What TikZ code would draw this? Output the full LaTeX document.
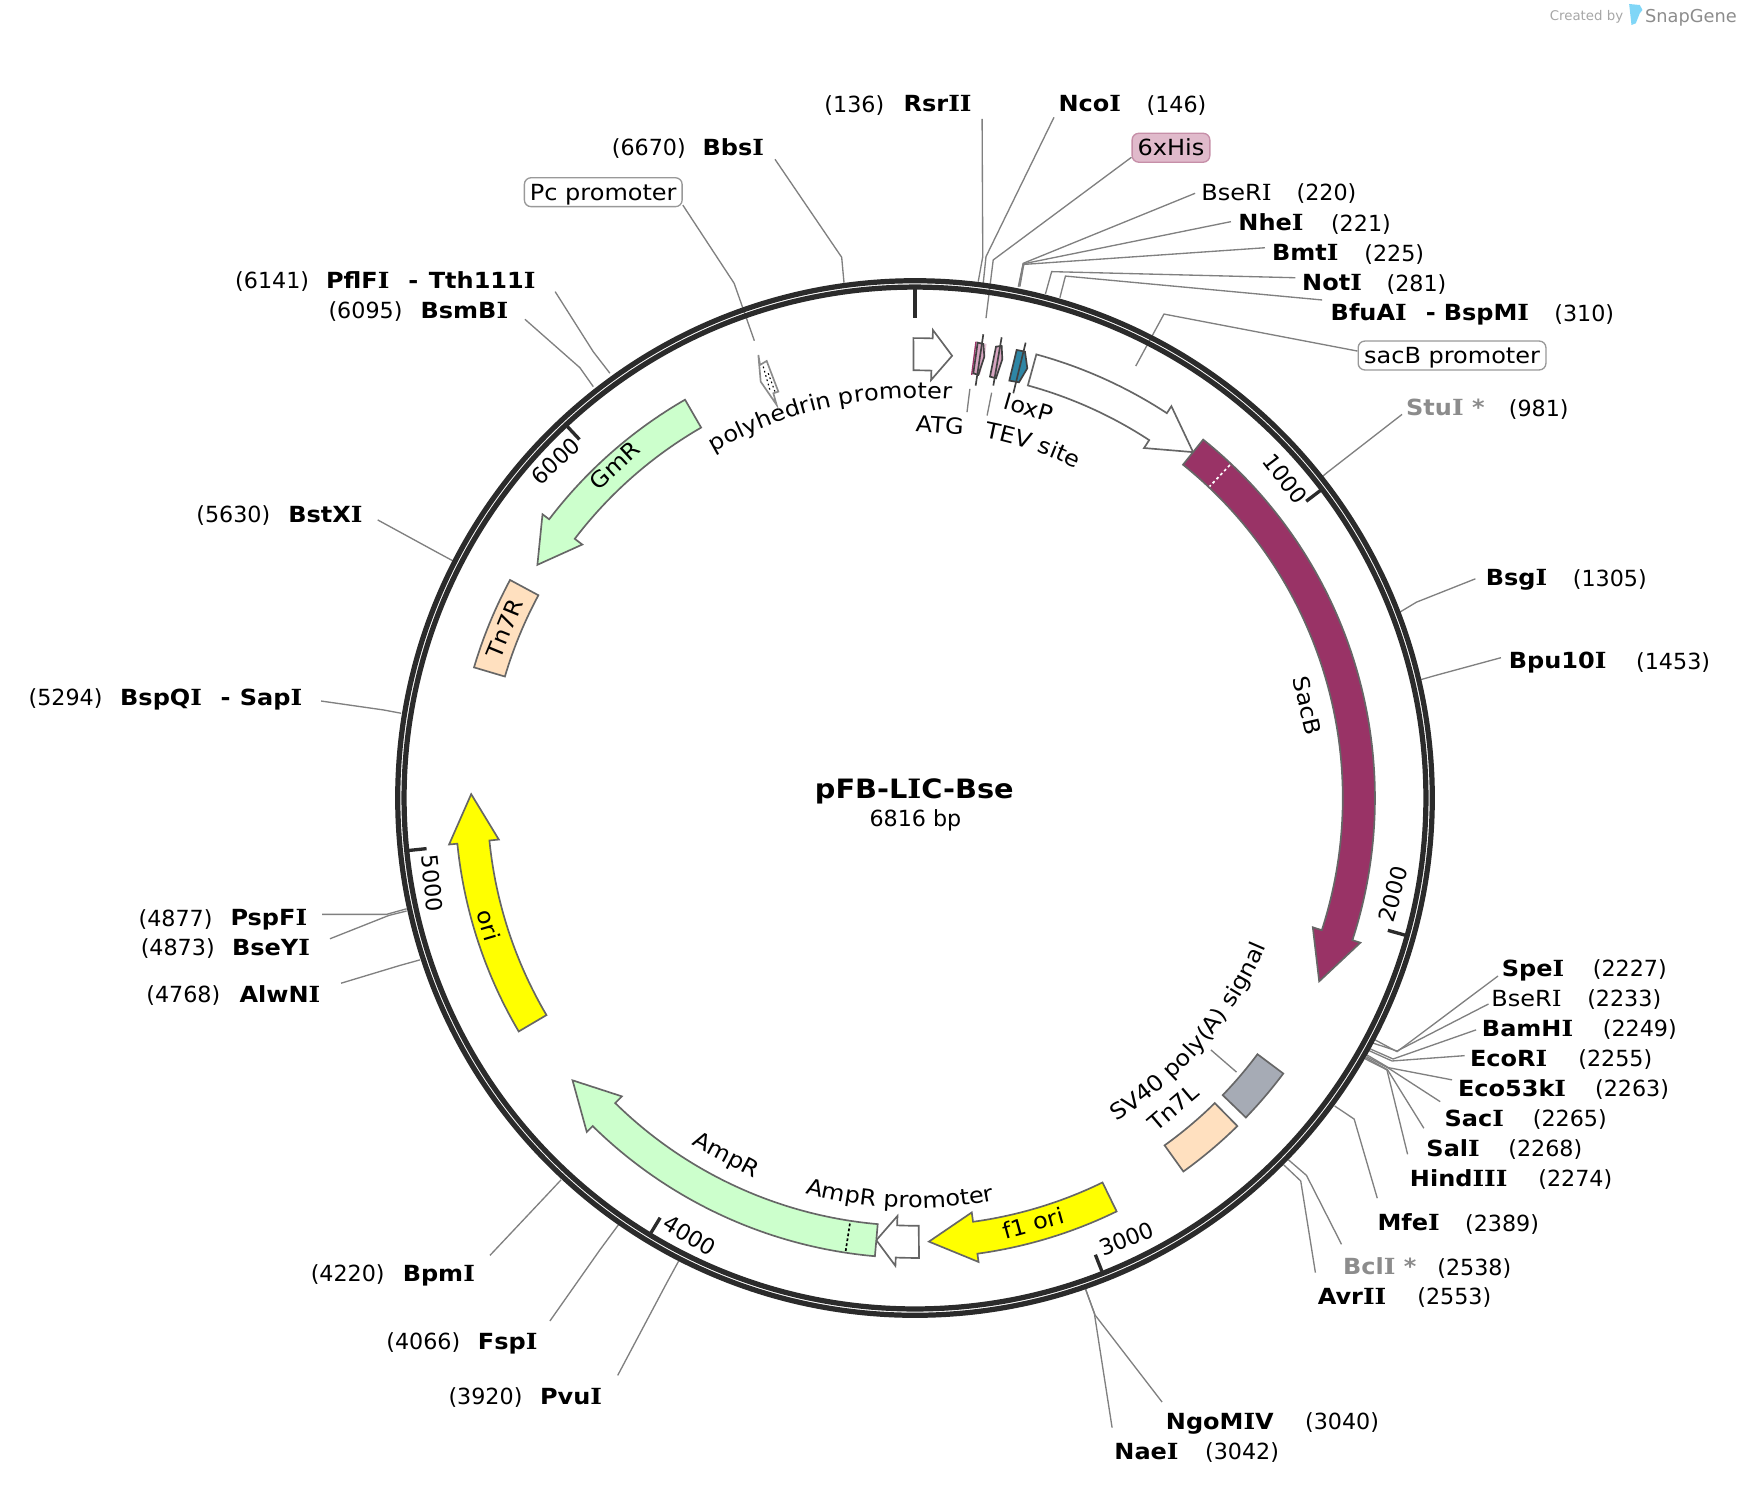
\documentclass[tikz,border=0pt]{standalone}
\usepackage{fontspec}
\setmainfont{DejaVu Sans}
\newfontfamily\wordf[FakeStretch=1.08]{DejaVu Sans}
\newfontfamily\slabf[FakeStretch=1.12]{DejaVu Serif}
\usetikzlibrary{decorations.text}
\newcommand{\lblfont}{\fontsize{20}{24}\selectfont}
\newcommand{\Ii}{{\slabf I}}
\tikzset{
  lbl/.style={font=\lblfont, inner sep=0pt, text height=14.6pt, text depth=0pt},
  word/.style={lbl, font=\lblfont\wordf},
  enz/.style={lbl, font=\lblfont\wordf\bfseries},
  enzgray/.style={enz, text=black!45},
  leader/.style={draw=black!50, line width=1.2pt},
  feat/.style={draw=black!60, line width=1.5pt, line join=miter},
  sitebox/.style={word, draw=black!40, line width=1.2pt, rounded corners=6pt, minimum height=26pt},
  around/.style={shift={(823.6,718.3)}, y=1pt},
  ring/.style={draw=black!83, line width=4.7pt},
}
% one enzyme site: name, position, leader
\newcommand{\site}[9][enz]{
  \node[#1] (#2) at (#4) {#3};
  \node[lbl] (#2 bp) at (#6) {#5};
  \coordinate (#2 end) at (#7);
  \coordinate (#2 elbow) at (#8);
  \coordinate (#2 ring) at (#9);
  \draw[leader] (#2 end) -- (#2 elbow) -- (#2 ring);
}
\newcommand{\featbox}[3]{
  \draw[feat, fill=#1] (#2:414) arc[start angle=#2, end angle=#3, radius=414]
    -- (#3:385) arc[start angle=#3, end angle=#2, radius=385] -- cycle;
}
\newcommand{\featarrow}[4]{
  \draw[feat, fill=#1] (#2:414) arc[start angle=#2, end angle=#3, radius=414]
    -- (#3:421.5) -- (#4:399.5) -- (#3:376.5) -- (#3:385)
    arc[start angle=#3, end angle=#2, radius=385] -- cycle;
}
\definecolor{sacb}{RGB}{153,51,102}
\definecolor{resist}{RGB}{204,255,204}
\definecolor{tnseven}{RGB}{255,224,191}
\definecolor{polya}{RGB}{166,171,181}
\definecolor{tag}{RGB}{214,164,192}
\definecolor{hisfill}{RGB}{224,186,203}
\definecolor{hisline}{RGB}{198,143,168}
\definecolor{lox}{RGB}{46,134,165}
\definecolor{orifill}{RGB}{255,255,0}
\begin{document}
\begin{tikzpicture}[x=1pt, y=-1pt]
  \useasboundingbox (0,0) rectangle (1568,1337.6);

  % top
  \site{rsr}{Rsr\Ii\Ii}{844,93}{(136)}{769,94}{884,107}{884.6,231}{880.5,253.5}
  \site{nco}{Nco\Ii}{981,93}{(146)}{1059,94}{948.7,105.6}{887.5,231}{885,255}
  \site[word]{bser}{BseR\Ii}{1113,173}{(220)}{1194,173}{1075.7,174}{921,237}{916.6,258}
  \site{nhe}{Nhe\Ii}{1144,200}{(221)}{1225,201}{1108,199.5}{921,237.5}{917,258}
  \site{bmt}{Bmt\Ii}{1175,227}{(225)}{1255,228}{1138.6,223}{921.5,238}{918,258}
  \site{not}{Not\Ii}{1199,254}{(281)}{1275,255}{1166,250}{946.6,244.5}{941,264.6}
  \site{bfu}{BfuA\Ii}{1232,281}{(310)}{1426,282}{1190,270}{959,248.5}{954,268}
  \node[enz] (bfu dash) at (1288,281) {-};
  \node[enz] (bsp) at (1338,281) {BspM\Ii};
  % right
  \site[enzgray]{stu}{Stu\Ii{} *}{1301,367}{(981)}{1385,368}{1262,373}{1195,425}{1189,430}
  \site{bsg}{Bsg\Ii}{1365,520}{(1305)}{1449,521}{1328,521}{1275,542}{1260,551}
  \site{bpu}{Bpu10\Ii}{1402,594}{(1453)}{1506,595}{1351,592}{1292,608}{1278,612}
  \site{spe}{Spe\Ii}{1380,872}{(2227)}{1467,872}{1348.4,878.5}{1257.5,946.6}{1237.7,936}
  \site[word]{bser2}{BseR\Ii}{1374,899}{(2233)}{1462,899}{1339.8,903.7}{1257.5,946}{1235.9,938.9}
  \site{bam}{BamH\Ii}{1375,926}{(2249)}{1476,926}{1328.6,927}{1253.9,953.2}{1233.5,944.2}
  \site{ecor}{EcoR\Ii}{1358,953}{(2255)}{1454,953}{1318.3,950.2}{1253,955}{1232.3,945.7}
  \site{eco}{Eco53k\Ii}{1361,980}{(2263)}{1469,980}{1307,972}{1249.8,961}{1230.5,949.6}
  \site{sac}{Sac\Ii}{1327,1007}{(2265)}{1413,1007}{1296.3,991.6}{1249.8,961.5}{1230,951}
  \site{sal}{Sal\Ii}{1308,1034}{(2268)}{1391,1034}{1281.6,1015.5}{1249,963}{1229.4,952}
  \site{hind}{Hind\Ii\Ii\Ii}{1313,1061}{(2274)}{1418,1061}{1267,1039}{1248.4,963}{1228.7,953}
  \site{mfe}{Mfe\Ii}{1268,1100}{(2389)}{1352,1101}{1239.7,1078.5}{1218.9,1007.3}{1201.3,995.5}
  \site[enzgray]{bcl}{Bcl\Ii{} *}{1242,1140}{(2538)}{1327,1141}{1207.5,1120}{1176,1058}{1159.8,1044}
  \site{avr}{Avr\Ii\Ii}{1217,1167}{(2553)}{1309,1167}{1184,1145.5}{1170.8,1063}{1155.6,1048.6}
  % bottom
  \site{ngo}{NgoM\Ii V}{1098,1279}{(3040)}{1208,1279}{1046,1262}{985.6,1183.6}{977,1160}
  \site{nae}{Nae\Ii}{1032,1306}{(3042)}{1118,1306}{1001,1285}{985,1182}{977,1160}
  \site{pvu}{Pvu\Ii}{514,1257}{(3920)}{437,1257}{556,1238}{600,1155}{612,1133}
  \site{fsp}{Fsp\Ii}{457,1207}{(4066)}{381,1207}{495,1189}{540,1125}{557,1102}
  \site{bpm}{Bpm\Ii}{395,1146}{(4220)}{313,1146}{441,1130}{490,1078}{505,1062}
  % left
  \site{alw}{AlwN\Ii}{252,895}{(4768)}{165,895}{307,885}{360,869}{378,864}
  \site{bsey}{BseY\Ii}{244,853}{(4873)}{160,853}{297,845}{350,824}{366,820}
  \site{psp}{PspF\Ii}{242,826}{(4877)}{158,827}{290,823}{348,823}{366,818}
  \site{bspq}{BspQ\Ii}{145,628}{(5294)}{59,628}{289,631}{345,639}{361,642}
  \node[enz] (bspq dash) at (203,628) {-};
  \node[enz] (sap) at (244,628) {Sap\Ii};
  \site{bstx}{BstX\Ii}{293,463}{(5630)}{210,463}{340,468}{395,498}{408,505}
  \site{bsmb}{BsmB\Ii}{418,279}{(6095)}{329,279}{472.5,287.4}{522,331}{534,348}
  \site{pfl}{PflF\Ii}{322,252}{(6141)}{245,252}{499.7,262.5}{534,316.6}{549,336}
  \node[enz] (pfl dash) at (372,252) {-};
  \node[enz] (tth) at (434,252) {Tth111\Ii};
  \site{bbs}{Bbs\Ii}{660,133}{(6670)}{584,133}{697.6,143.4}{757.6,231.6}{759.7,254.5}

  % boxed features
  \node[sitebox, fill=hisfill, draw=hisline, minimum width=70pt] (his) at (1054,133) {6xHis};
  \node[sitebox, fill=white, minimum width=142pt] (pc) at (543,173) {Pc promoter};
  \node[sitebox, fill=white, minimum width=169pt] (sacp) at (1307,320) {sacB promoter};
  \coordinate (his elbow) at (894,234);
  \coordinate (his feat) at (887.5,286.4);
  \draw[leader] (his.south west) ++(0,-5) -- (his elbow) -- (his feat);
  \coordinate (pc elbow) at (660.8,255);
  \coordinate (pc feat) at (679,306.7);
  \draw[leader] (pc.south east) ++(0,-2) -- (pc elbow) -- (pc feat);
  \coordinate (sacp elbow) at (1047.7,282.7);
  \coordinate (sacp feat) at (1022.3,329.5);
  \draw[leader] (sacp.west) ++(0,-4) -- (sacp elbow) -- (sacp feat);

  \begin{scope}[around]
    \draw[ring] (0,0) circle[radius=465.6];
    \draw[ring] (0,0) circle[radius=459.9];
    \draw[draw=black!83, line width=4pt] (90:459) -- (90:432);
    \foreach \bp in {1000,2000,...,6000}{
      \pgfmathsetmacro{\tickang}{90-\bp/6816*360}
      \draw[draw=black!83, line width=3pt] (\tickang:458) -- (\tickang:442);
    }
    % backbone features
    \featarrow{white}{90.2}{87.8}{85.2}
    \featarrow{white}{74.7}{56.8}{51.2}
    \featarrow{sacb}{51.2}{-18}{-24.4}
    \draw[white, line width=1.5pt, dash pattern=on 2.5pt off 2.5pt] (46.6:412.5) -- (46.6:386);
    \featbox{polya}{-36.8}{-44}
    \featbox{tnseven}{-45.5}{-54.3}
    \featarrow{orifill}{-64}{-82.2}{-88.2}
    \featarrow{white}{-89.5}{-92.4}{-95}
    \featarrow{resist}{-95}{-134.5}{-140.5}
    \draw[black, line width=1.5pt, dash pattern=on 2.5pt off 2pt] (-98.7:412.5) -- (-98.7:386);
    \featarrow{orifill}{-149.5}{-174.3}{-180.5}
    \featbox{tnseven}{151.7}{163.5}
    \featarrow{resist}{120}{142.7}{148.3}
    % curved names
    \path[decorate, decoration={text along path, text align=center, text={|\lblfont\wordf|polyhedrin promoter}}]
      (120:360) arc[start angle=120, end angle=85, radius=360];
    \path[decorate, decoration={text along path, text align=center, text={|\lblfont\wordf|TEV site}}]
      (79:330) arc[start angle=79, end angle=64, radius=330];
    \path[decorate, decoration={text along path, text align=center, text={|\lblfont\wordf|SV40 poly(A) signal}}]
      (-58.5:343) arc[start angle=-58.5, end angle=-22.5, radius=343];
    \path[decorate, decoration={text along path, text align=center, text={|\lblfont\wordf|AmpR promoter}}]
      (-105.7:369) arc[start angle=-105.7, end angle=-78.7, radius=369];
  \end{scope}

  % tiny features
  \draw[feat, draw=black!45, fill=white] (682.6,319.5) -- (684.1,328.5) -- (690.1,324.9) -- (700.6,352.5)
    -- (696.1,354) -- (699.1,364.5) -- (684.7,343.5) -- cycle;
  \draw[black, line width=1pt, dash pattern=on 1.5pt off 2.5pt] (687,330) -- (693,351);
  \draw[black, line width=1pt, dash pattern=on 1.5pt off 2.5pt] (691.5,336) -- (697.5,352.5);
  \fill[tag!60] (878.5,307.5) -- (888,309.6) -- (886.5,321) -- (882,337.5) -- (874.6,337.5) -- cycle;
  \draw[sacb, line width=1.2pt] (878.5,307.5) -- (874.6,337.5);
  \draw[feat, draw=black!75, fill=tag] (880,308.4) -- (885.1,309.6) -- (886,321) -- (880.6,337.5) -- (876.1,336) -- cycle;
  \draw[feat, draw=black!75] (885.1,300.9) -- (878.2,347.1);
  \draw[feat, draw=black!75, fill=tag] (896.5,312) -- (901.6,311.4) -- (902.2,323.4) -- (896.5,340.5) -- (891.1,339) -- cycle;
  \draw[feat, draw=black!75] (901.6,303.6) -- (894.1,347.1);
  \draw[feat, draw=black!75, fill=lox] (915.1,315) -- (922.6,316.5) -- (924.7,331.5) -- (917.2,344.1) -- (908.5,342.6) -- cycle;
  \draw[feat, draw=black!75] (923.2,308.4) -- (912.1,354);

  % feature names
  \node[word, rotate=-76.8] (sacb name) at (1177,635) {SacB};
  \node[word, rotate=42.8] (gmr name) at (553,419) {GmR};
  \node[word, rotate=-73.4] (ori name) at (440,833) {ori};
  \node[word, rotate=67.6] (tnr name) at (454,566) {Tn7R};
  \node[word, rotate=40.4] (tnl name) at (1056,997) {Tn7L};
  \node[word, rotate=15.5] (f1 name) at (930,1101) {f1 ori};
  \node[word, rotate=-27.9] (amp name) at (654,1039) {AmpR};
  \node[word, rotate=-16.2] (lox name) at (926,367) {loxP};
  \node[word, rotate=-4] (atg name) at (846,382.5) {ATG};
  \coordinate (atg top) at (873,350);
  \coordinate (atg low) at (870.4,371);
  \draw[leader] (atg top) -- (atg low);
  \coordinate (tev top) at (892.6,353.5);
  \coordinate (tev low) at (888.5,374);
  \draw[leader] (tev top) -- (tev low);
  \coordinate (sv top) at (1089.9,945);
  \coordinate (sv low) at (1113,965);
  \draw[leader] (sv top) -- (sv low);

  % tick numbers
  \foreach \bp/\x/\y/\rot in {1000/1157/431/-52.8, 2000/1254/805/74.4, 3000/1014/1115/21.6,
      4000/621/1112/-31.2, 5000/389/795/-84, 6000/500/415/43.1}{
    \node[lbl, rotate=\rot] (tick \bp) at (\x,\y) {\bp};
  }

  \node[enz, font=\fontsize{24}{29}\selectfont\wordf\bfseries, text height=17.5pt] (title) at (823,710) {pFB-L\Ii C-Bse};
  \node[lbl] (size) at (824,737) {6816 bp};

  % logo
  \node[lbl, font=\fontsize{12}{14}\selectfont, text height=9pt, text=black!35] (created) at (1428,14) {Created by};
  \fill[cyan!50] (1466.4,3.6) -- (1476,4.5) -- (1478.4,9) -- (1476,12) -- (1472.4,21) -- (1468.5,22.5) -- cycle;
  \node[lbl, font=\fontsize{16}{19}\selectfont, text height=12pt, text=black!45] (snapgene) at (1522,14) {SnapGene};
\end{tikzpicture}
\end{document}
